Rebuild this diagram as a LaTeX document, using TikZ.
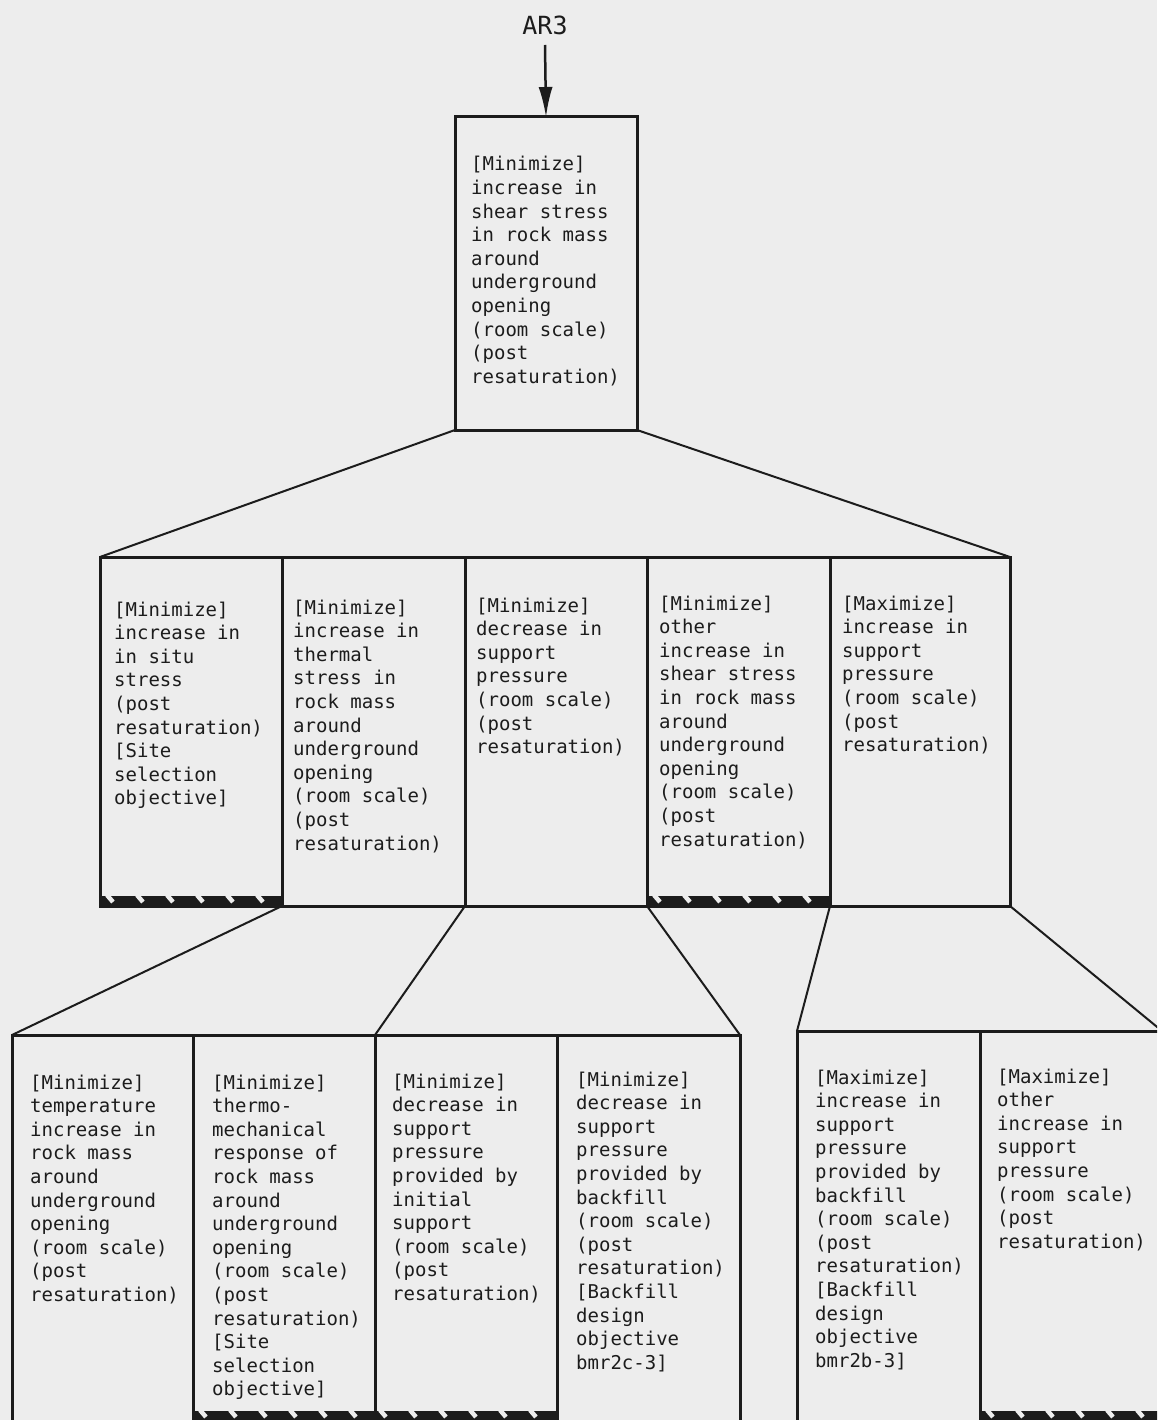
\documentclass[tikz,border=0pt]{standalone}
\usepackage{fontspec}
\setmonofont{DejaVu Sans Mono}
\usetikzlibrary{arrows.meta}
\definecolor{paper}{HTML}{EDEDED}
\definecolor{ink}{HTML}{1C1C1C}
\newcommand{\boxlines}[1]{\begin{tabular}[t]{@{}l@{}}#1\end{tabular}}
\newcommand{\hatchbar}[3]{%
  \fill[ink] (#1+2,#3-10) rectangle (#2,#3);
  \pgfmathsetmacro\hbw{#2-#1-10}
  \foreach \dx in {7,37,...,\hbw} {\draw[paper, line width=4.5pt] (#1+\dx,#3-11) -- (#1+\dx+6,#3-4);}
}
\tikzset{
  bx/.style={draw=ink, line width=3pt, anchor=north west, inner sep=0pt, outer sep=0pt},
  fan/.style={draw=ink, line width=2pt},
  txt/.style={anchor=base west, inner sep=0pt, text=ink, node font=\ttfamily\fontsize{19}{23.6}\selectfont},
}
\begin{document}
\begin{tikzpicture}[x=1pt,y=-1pt]
\useasboundingbox (0,0) rectangle (1157,1420);
\fill[paper] (0,0) rectangle (1157,1420);
\clip (0,0) rectangle (1157,1420);

% top
\node[text=ink, inner sep=0pt, anchor=base, font=\ttfamily\fontsize{25}{30}\selectfont] (ar) at (545,35) {AR3};
\node[bx, minimum width=182pt, minimum height=313pt] (t) at (455,117) {};
\coordinate (arstart) at (545,45);
\draw[draw=ink, line width=2.5pt, -{Latex[length=30pt,width=14pt]}] (arstart) -- (t.north);
\node[txt] (tt) at (471,171) {\boxlines{[Minimize]\\increase in\\shear stress\\in rock mass\\around\\underground\\opening\\(room scale)\\(post\\resaturation)}};

% row 2
\node[bx, minimum width=182pt, minimum height=349pt] (b1) at (100,557) {};
\node[bx, minimum width=183pt, minimum height=349pt] (b2) at (282,557) {};
\node[bx, minimum width=182pt, minimum height=349pt] (b3) at (465,557) {};
\node[bx, minimum width=183pt, minimum height=349pt] (b4) at (647,557) {};
\node[bx, minimum width=180pt, minimum height=349pt] (b5) at (830,557) {};
\draw[fan] (t.south west) -- (b1.north west);
\draw[fan] (t.south east) -- (b5.north east);

\node[txt] (tb1) at (114,616) {\boxlines{[Minimize]\\increase in\\in situ\\stress\\(post\\resaturation)\\{}[Site\\selection\\objective]}};
\node[txt] (tb2) at (293,614) {\boxlines{[Minimize]\\increase in\\thermal\\stress in\\rock mass\\around\\underground\\opening\\(room scale)\\(post\\resaturation)}};
\node[txt] (tb3) at (476,612) {\boxlines{[Minimize]\\decrease in\\support\\pressure\\(room scale)\\(post\\resaturation)}};
\node[txt] (tb4) at (659,610) {\boxlines{[Minimize]\\other\\increase in\\shear stress\\in rock mass\\around\\underground\\opening\\(room scale)\\(post\\resaturation)}};
\node[txt] (tb5) at (842,610) {\boxlines{[Maximize]\\increase in\\support\\pressure\\(room scale)\\(post\\resaturation)}};

\hatchbar{100}{282}{906}
\hatchbar{647}{830}{906}

% row 3, group A
\node[bx, minimum width=181pt, minimum height=387pt] (a1) at (12,1035) {};
\node[bx, minimum width=182pt, minimum height=387pt] (a2) at (193,1035) {};
\node[bx, minimum width=182pt, minimum height=387pt] (a3) at (375,1035) {};
\node[bx, minimum width=183pt, minimum height=387pt] (a4) at (557,1035) {};
% row 3, group B
\node[bx, minimum width=183pt, minimum height=391pt] (c1) at (797,1031) {};
\node[bx, minimum width=182pt, minimum height=391pt] (c2) at (980,1031) {};

\draw[fan] (b1.south east) -- (a1.north west);
\draw[fan] (b2.south east) -- (a3.north west);
\draw[fan] (b3.south east) -- (a4.north east);
\draw[fan] (b4.south east) -- (c1.north west);
\draw[fan] (b5.south east) -- (c2.north east);

\node[txt] (ta1) at (30,1089) {\boxlines{[Minimize]\\temperature\\increase in\\rock mass\\around\\underground\\opening\\(room scale)\\(post\\resaturation)}};
\node[txt] (ta2) at (212,1089) {\boxlines{[Minimize]\\thermo-\\mechanical\\response of\\rock mass\\around\\underground\\opening\\(room scale)\\(post\\resaturation)\\{}[Site\\selection\\objective]}};
\node[txt] (ta3) at (392,1088) {\boxlines{[Minimize]\\decrease in\\support\\pressure\\provided by\\initial\\support\\(room scale)\\(post\\resaturation)}};
\node[txt] (ta4) at (576,1086) {\boxlines{[Minimize]\\decrease in\\support\\pressure\\provided by\\backfill\\(room scale)\\(post\\resaturation)\\{}[Backfill\\design\\objective\\bmr2c-3]}};
\node[txt] (tc1) at (815,1084) {\boxlines{[Maximize]\\increase in\\support\\pressure\\provided by\\backfill\\(room scale)\\(post\\resaturation)\\{}[Backfill\\design\\objective\\bmr2b-3]}};
\node[txt] (tc2) at (997,1083) {\boxlines{[Maximize]\\other\\increase in\\support\\pressure\\(room scale)\\(post\\resaturation)}};

\hatchbar{193}{557}{1421}
\hatchbar{980}{1162}{1421}
\end{tikzpicture}
\end{document}
